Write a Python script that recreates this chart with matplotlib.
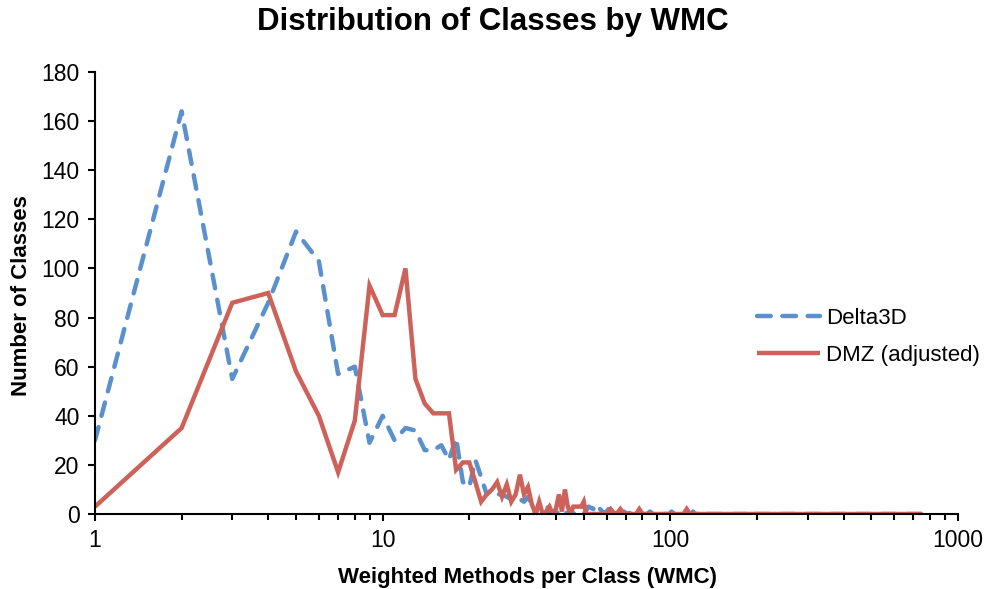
import matplotlib
matplotlib.use("Agg")
import matplotlib.pyplot as plt
from matplotlib.ticker import FixedLocator, NullFormatter

plt.rcParams['font.family'] = ['Liberation Sans', 'DejaVu Sans']

title = "Distribution of Classes by WMC"
xlabel = "Weighted Methods per Class (WMC)"
ylabel = "Number of Classes"
series_names = ["Delta3D", "DMZ (adjusted)"]

delta_x = [1, 2, 3, 4, 5, 6, 7, 8, 9, 10, 11, 12, 13, 14, 15, 16, 17, 18, 19, 20,
           21, 22, 23, 24, 25, 26, 27, 28, 29, 30, 31, 32, 33, 34, 35, 36, 37, 38, 39, 40,
           41, 42, 43, 44, 45, 46, 48, 50, 52, 54, 55, 56, 58, 59, 61, 62, 66, 69, 71,
           74, 76, 83, 85, 87, 99, 101, 103, 118, 120, 122, 131, 133, 135, 185, 187, 189, 750]
delta_y = [30, 164, 55, 86, 115, 103, 57, 60, 29, 40, 30, 35, 34, 26, 26, 28, 22, 31, 13, 11,
           22, 15, 8, 10, 8, 8, 7, 6, 5, 6, 5, 7, 4, 0, 4, 3, 4, 1, 0, 0,
           1, 0, 1, 0, 2, 0, 1, 0, 3, 2, 4, 3, 1, 0, 2, 0, 0, 1, 0,
           1, 0, 0, 1, 0, 0, 1, 0, 0, 1, 0, 0, 1, 0, 0, 1, 0, 0]

dmz_x = [1, 2, 3, 4, 5, 6, 7, 8, 9, 10, 11, 12, 13, 14, 15, 16, 17, 18, 19, 20,
         21, 22, 23, 24, 25, 26, 27, 28, 29, 30, 31, 32, 33, 34, 35, 36, 37, 38, 39, 40,
         41, 42, 43, 44, 45, 46, 47, 48, 49, 50, 51, 60, 62, 64, 65, 67, 69, 76, 78, 80,
         111, 114, 117, 750]
dmz_y = [3, 35, 86, 90, 58, 40, 17, 38, 93, 81, 81, 100, 55, 45, 41, 41, 41, 18, 21, 21,
         13, 5, 8, 10, 13, 7, 12, 5, 8, 16, 8, 11, 4, 0, 5, 0, 1, 3, 0, 2,
         8, 1, 10, 3, 0, 3, 3, 3, 3, 5, 0, 0, 2, 0, 0, 2, 0, 0, 2, 0,
         0, 2, 0, 0]

blue = '#5A91CC'
red = '#CC625A'

fig = plt.figure(figsize=(9.85, 5.89), dpi=100)
ax = fig.add_axes([95/985, 1-514/589, (958-95)/985, (514-72)/589])

ax.plot(delta_x, delta_y, color=blue, lw=3.2, dashes=(3.1, 2.6),
        dash_capstyle='round', solid_joinstyle='miter', label=series_names[0])
ax.plot(dmz_x, dmz_y, color=red, lw=3.2, solid_joinstyle='miter',
        solid_capstyle='butt', label=series_names[1])

ax.set_xscale('log')
ax.set_xlim(1, 1000)
ax.set_ylim(0, 180)
ax.set_yticks(range(0, 181, 20))
ax.set_xticks([1, 10, 100, 1000])
ax.set_xticklabels(['1', '10', '100', '1000'])
minors = [m * d for d in (1, 10, 100) for m in range(2, 10)]
ax.xaxis.set_minor_locator(FixedLocator(minors))
ax.xaxis.set_minor_formatter(NullFormatter())

for s in ('top', 'right'):
    ax.spines[s].set_visible(False)
for s in ('left', 'bottom'):
    ax.spines[s].set_linewidth(1.5)
    ax.spines[s].set_color('black')

ax.tick_params(axis='both', which='major', direction='out', length=5, width=1.5,
               labelsize=16.5, colors='black')
ax.tick_params(axis='x', which='minor', direction='out', length=4, width=1.5)
ax.tick_params(axis='x', which='major', pad=6)
ax.tick_params(axis='y', which='major', pad=6)

fig.text(0.5, 1-22/589, title, ha='center', va='center', fontsize=22.5, fontweight='bold')
fig.text(22/985, 1-296/589, ylabel, ha='center', va='center', rotation=90,
         fontsize=16, fontweight='bold')
fig.text(527/985, 1-577/589, xlabel, ha='center', va='center',
         fontsize=16, fontweight='bold')

leg = ax.legend(loc='center left', bbox_to_anchor=(757/985, 1-337/589),
                bbox_transform=fig.transFigure, frameon=False, fontsize=16,
                borderpad=0, borderaxespad=0,
                handlelength=2.85, handletextpad=0.25, labelspacing=0.7)

fig.savefig('out.png', dpi=100)
